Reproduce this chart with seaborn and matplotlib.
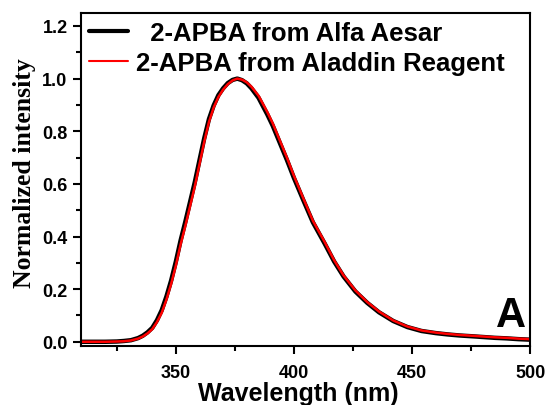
import matplotlib
matplotlib.use("Agg")
import matplotlib.pyplot as plt
import seaborn as sns
import pandas as pd
from matplotlib.ticker import MultipleLocator

sns.set_theme(style="ticks")
plt.rcParams.update({"text.color": "black", "axes.labelcolor": "black",
                     "xtick.color": "black", "ytick.color": "black"})

wavelength = [310, 320, 325, 328, 331, 334, 336, 338, 340, 342, 344, 346, 348, 350,
              352, 354, 356, 358, 360, 362, 364, 366, 368, 370, 372, 374, 376, 378,
              380, 382, 385, 388.7, 391, 394, 397, 400, 404, 408, 413, 417, 421, 426,
              431, 436, 442, 448, 454, 460, 465, 470, 477, 485, 490, 495, 500]
aladdin = [0.0, 0.0, 0.001, 0.002, 0.005, 0.012, 0.02, 0.032, 0.048, 0.075, 0.11, 0.16,
           0.22, 0.29, 0.37, 0.44, 0.515, 0.59, 0.675, 0.76, 0.835, 0.89, 0.93, 0.958,
           0.979, 0.993, 1.0, 0.996, 0.986, 0.969, 0.935, 0.873, 0.83, 0.765, 0.70,
           0.63, 0.544, 0.46, 0.379, 0.31, 0.252, 0.195, 0.151, 0.115, 0.081, 0.058,
           0.043, 0.035, 0.030, 0.026, 0.022, 0.017, 0.015, 0.012, 0.010]
alfa = [0.0, 0.0, 0.001, 0.003, 0.006, 0.014, 0.023, 0.036, 0.053, 0.082, 0.12, 0.172,
        0.233, 0.305, 0.385, 0.456, 0.531, 0.606, 0.69, 0.773, 0.846, 0.898, 0.937, 0.963,
        0.983, 0.995, 1.0, 0.994, 0.982, 0.963, 0.927, 0.864, 0.821, 0.756, 0.691,
        0.622, 0.537, 0.454, 0.373, 0.305, 0.248, 0.191, 0.148, 0.112, 0.079, 0.056,
        0.041, 0.033, 0.028, 0.024, 0.020, 0.015, 0.013, 0.010, 0.008]
labels = ["  2-APBA from Alfa Aesar", "2-APBA from Aladdin Reagent"]

df = pd.concat([
    pd.DataFrame({"Wavelength": wavelength, "Intensity": alfa, "Source": labels[0]}),
    pd.DataFrame({"Wavelength": wavelength, "Intensity": aladdin, "Source": labels[1]}),
])

fig, ax = plt.subplots(figsize=(5.5, 4.06), dpi=100)
fig.subplots_adjust(left=0.148, right=0.964, top=0.966, bottom=0.146)

sns.lineplot(data=df[df.Source == labels[0]], x="Wavelength", y="Intensity",
             color="black", linewidth=3.2, ax=ax, label=labels[0])
sns.lineplot(data=df[df.Source == labels[1]], x="Wavelength", y="Intensity",
             color="#ff0000", linewidth=1.8, ax=ax, label=labels[1])

ax.set_xlim(310, 500)
ax.set_ylim(-0.015, 1.25)
ax.xaxis.set_major_locator(MultipleLocator(50))
ax.xaxis.set_minor_locator(MultipleLocator(25))
ax.yaxis.set_major_locator(MultipleLocator(0.2))
ax.yaxis.set_minor_locator(MultipleLocator(0.1))
ax.tick_params(which="major", direction="out", length=6, width=1.5, color="black",
               labelsize=13)
ax.tick_params(axis="x", which="major", pad=7)
ax.tick_params(axis="y", which="major", pad=4)
ax.tick_params(which="minor", direction="out", length=3.5, width=1.5, color="black")
for lab in ax.get_xticklabels() + ax.get_yticklabels():
    lab.set_fontfamily("Liberation Sans")
    lab.set_fontweight("bold")
for s in ax.spines.values():
    s.set_linewidth(1.5)
    s.set_color("black")

ax.set_xlabel("Wavelength (nm)", fontfamily="Liberation Sans", fontweight="bold",
              fontsize=18)
ax.xaxis.set_label_coords(0.483, -0.105, transform=ax.transAxes)
ax.xaxis.label.set_va("top")
ax.set_ylabel("Normalized intensity", fontfamily="Liberation Serif", fontweight="bold",
              fontsize=18.5)
ax.yaxis.set_label_coords(-0.102, 0.52, transform=ax.transAxes)

leg = ax.legend(loc="upper left", frameon=False, handlelength=1.5, handletextpad=0.32,
                borderaxespad=0.0, borderpad=0.3, labelspacing=0.25,
                prop={"family": "Liberation Sans", "weight": "bold", "size": 18.5})
leg.get_lines()[0].set_linewidth(3.0)
leg.get_lines()[1].set_linewidth(1.5)

ax.text(0.99, 0.06, "A", transform=ax.transAxes, ha="right", va="baseline",
        fontfamily="Liberation Sans", fontweight="bold", fontsize=30)

fig.savefig("out.png", dpi=100)
